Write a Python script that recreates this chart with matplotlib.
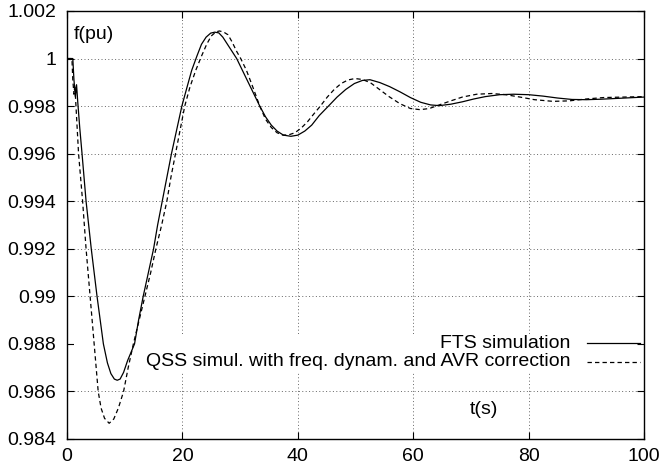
import numpy as np
import matplotlib.pyplot as plt
from matplotlib.patches import Rectangle

plt.rcParams['font.family'] = ['Liberation Sans', 'DejaVu Sans']

# FTS simulation (solid)
t_fts = [0, 1.0, 1.2, 1.45, 1.65, 1.85, 2.2, 2.6, 3.3, 4.2, 5.2, 6.3, 7.0, 7.6,
         8.2, 8.7, 9.2, 9.8, 10.5, 11.7, 12.4, 13.2, 14.1, 15.0, 15.7, 16.5,
         17.3, 18.1, 19.0, 19.9, 20.8, 21.6, 22.5, 23.3, 24.1, 24.9, 25.6, 26.3,
         27.0, 27.8, 28.6, 29.4, 30.4, 31.4, 32.4, 33.4, 34.4, 35.4, 36.4, 37.5,
         38.8, 40.0, 41.2, 42.4, 43.7, 45.3, 46.8, 48.3, 49.8, 51.2, 52.5, 54.2,
         55.9, 57.7, 59.5, 61.3, 63.0, 64.5, 66.5, 68.5, 70.5, 72.5, 75, 77.4,
         80, 82.5, 85, 87.5, 90, 92.5, 95, 97.5, 100]
f_fts = [1.0, 1.0, 0.9991, 0.9984, 0.9989, 0.9982, 0.9971, 0.9960, 0.9940,
         0.9920, 0.9900, 0.9880, 0.9872, 0.98675, 0.98652, 0.98647, 0.98652,
         0.9868, 0.9873, 0.9880, 0.9890, 0.9900, 0.9910, 0.9920, 0.9930,
         0.9940, 0.9950, 0.9960, 0.9970, 0.9980, 0.9988, 0.9995, 1.0001,
         1.0006, 1.0009, 1.00107, 1.00111, 1.00108, 1.0009, 1.0006, 1.0003,
         1.0000, 0.9995, 0.9990, 0.9985, 0.9980, 0.99755, 0.99720, 0.99695,
         0.99678, 0.99673, 0.99678, 0.99695, 0.99720, 0.99760, 0.99800,
         0.99838, 0.99870, 0.99895, 0.99908, 0.99911, 0.99899, 0.99882,
         0.99860, 0.99836, 0.99816, 0.99805, 0.99802, 0.99808, 0.99818,
         0.99830, 0.99840, 0.99848, 0.99850, 0.99848, 0.99842, 0.99834,
         0.99828, 0.99827, 0.99829, 0.99832, 0.99835, 0.99838]

# QSS simulation with freq. dynamics and AVR correction (dashed)
t_qss = [0, 0.85, 1.0, 1.2, 1.35, 1.55, 2.0, 2.7, 3.3, 4.0, 4.7, 5.4, 5.9, 6.5,
         7.3, 8.1, 8.9, 9.8, 10.6, 11.5, 12.5, 13.5, 14.5, 15.4, 16.4, 17.3,
         18.0, 18.8, 19.6, 20.4, 21.3, 22.3, 23.3, 24.2, 25.0, 25.8, 26.4, 27.1,
         27.9, 28.6, 29.4, 30.1, 31.1, 32.2, 33.4, 34.4, 35.4, 36.4, 37.4, 38.4,
         39.5, 40.6, 41.7, 42.8, 43.9, 45.1, 46.3, 47.5, 48.7, 49.9, 51.2, 52.6,
         54.2, 55.8, 57.7, 59.5, 61.2, 62.8, 64.5, 66.5, 68.5, 71, 73.6, 76,
         78.5, 81, 84.2, 87, 90, 93, 96.5, 100]
f_qss = [1.0, 1.0, 0.9991, 0.9985, 0.9989, 0.9980, 0.9960, 0.9940, 0.9920,
         0.9900, 0.9880, 0.9860, 0.98530, 0.98487, 0.98466, 0.98484, 0.98530,
         0.9860, 0.9870, 0.9880, 0.9890, 0.9900, 0.9910, 0.9920, 0.9930,
         0.9940, 0.9950, 0.9960, 0.9970, 0.9980, 0.9988, 0.9995, 1.0001,
         1.0006, 1.00095, 1.00112, 1.00116, 1.00112, 1.0010, 1.0007, 1.0003,
         1.0000, 0.9995, 0.9988, 0.9980, 0.99745, 0.99710, 0.99688, 0.99678,
         0.99679, 0.99688, 0.99708, 0.99735, 0.99768, 0.99800, 0.99838,
         0.99870, 0.99895, 0.99910, 0.99916, 0.99912, 0.99898, 0.99869,
         0.99840, 0.99810, 0.99790, 0.99785, 0.99790, 0.99805, 0.99822,
         0.99838, 0.99850, 0.99853, 0.99848, 0.99838, 0.99827, 0.99820,
         0.99822, 0.99830, 0.99836, 0.99838, 0.99840]

xticks = [0, 20, 40, 60, 80, 100]
yticks = [0.984, 0.986, 0.988, 0.99, 0.992, 0.994, 0.996, 0.998, 1, 1.002]
ytick_labels = ['0.984', '0.986', '0.988', '0.99', '0.992', '0.994', '0.996',
                '0.998', '1', '1.002']

fs = 14

fig = plt.figure(figsize=(6.61, 4.70), dpi=100)
ax = fig.add_axes([0.1014, 0.066, 0.873, 0.9106])

ax.plot(t_fts, f_fts, color='black', lw=0.9, zorder=3)
ax.plot(t_qss, f_qss, color='black', lw=0.9, ls=(0, (3.5, 2.5)), zorder=3)

ax.set_xlim(0, 100)
ax.set_ylim(0.984, 1.002)
ax.set_xticks(xticks)
ax.set_yticks(yticks)
ax.set_yticklabels(ytick_labels)
ax.tick_params(direction='in', length=5, width=0.8, top=True, right=True,
               labelsize=fs)
ax.tick_params(axis='x', pad=6.5)
ax.tick_params(axis='y', pad=8)
ax.set_axisbelow(True)
ax.grid(True, color='0.4', lw=0.7, ls=(0, (1, 2.5)))
for s in ax.spines.values():
    s.set_linewidth(1.0)

# opaque key area (hides grid behind it)
ax.add_patch(Rectangle((0.012, 0.154), 0.976, 0.091, transform=ax.transAxes,
                       facecolor='white', edgecolor='none', zorder=1))

# key
ax.text(0.873, 0.224, 'FTS simulation', transform=ax.transAxes,
        ha='right', va='center', fontsize=fs)
ax.text(0.873, 0.180, 'QSS simul. with freq. dynam. and AVR correction',
        transform=ax.transAxes, ha='right', va='center', fontsize=fs)
ax.plot([0.901, 0.993], [0.224, 0.224], transform=ax.transAxes,
        color='black', lw=0.9)
ax.plot([0.901, 0.993], [0.180, 0.180], transform=ax.transAxes,
        color='black', lw=0.9, ls=(0, (3.5, 2.5)))

ax.text(0.011, 0.944, 'f(pu)', transform=ax.transAxes, ha='left',
        va='center', fontsize=fs)
ax.text(0.698, 0.068, 't(s)', transform=ax.transAxes, ha='left',
        va='center', fontsize=fs)

fig.savefig('out.png', dpi=100)
